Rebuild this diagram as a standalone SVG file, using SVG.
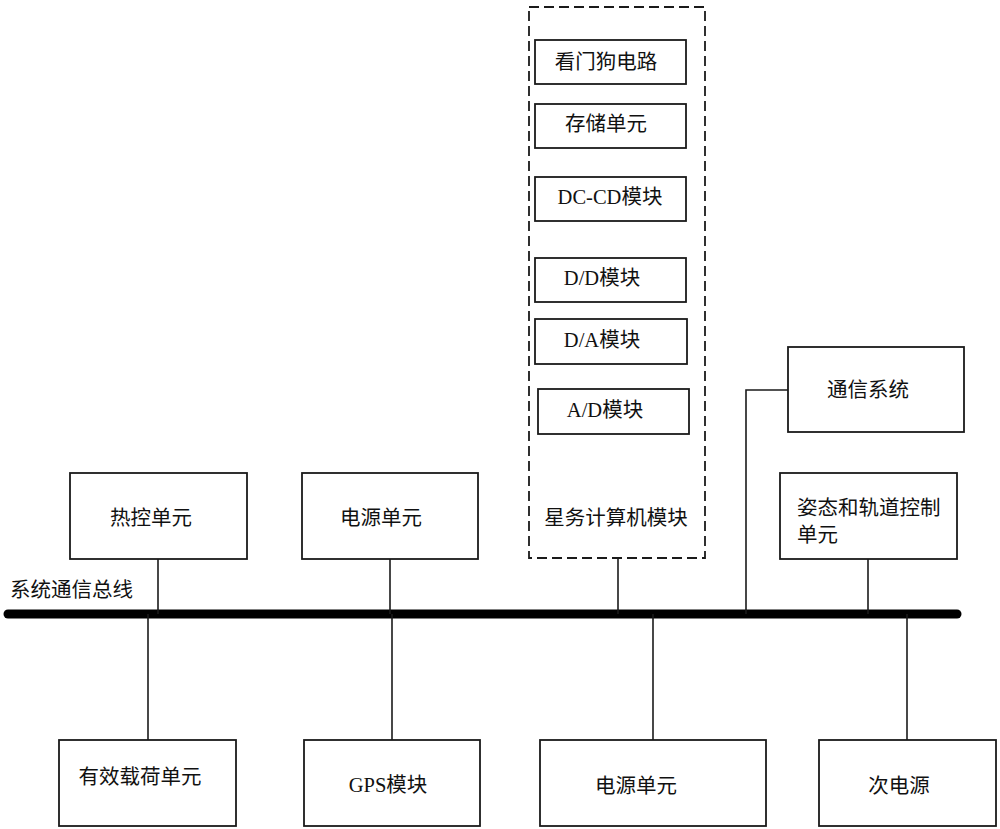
<svg xmlns="http://www.w3.org/2000/svg" width="1000" height="829" viewBox="0 0 1000 829">
<style>
.b{fill:#fff;stroke:#1a1a1a;stroke-width:1.8}
.d{fill:none;stroke:#1a1a1a;stroke-width:1.8;stroke-dasharray:10,5}
.t{font-family:"Liberation Serif","Noto Sans CJK SC",serif;font-size:20.5px;fill:#111;text-anchor:middle}
.l{fill:none;stroke:#1a1a1a;stroke-width:1.6}
.bus{stroke:#000;stroke-width:9;stroke-linecap:round}
</style>
<rect width="1000" height="829" fill="#fff"/>
<g id="connectors">
<line class="bus" x1="8" y1="614" x2="957" y2="614"/>
<line class="l" x1="158" y1="559" x2="158" y2="614"/>
<line class="l" x1="390" y1="559" x2="390" y2="614"/>
<line class="l" x1="618" y1="558" x2="618" y2="614"/>
<polyline class="l" points="788,390 746,390 746,614"/>
<line class="l" x1="868" y1="559" x2="868" y2="614"/>
<line class="l" x1="148" y1="614" x2="148" y2="740"/>
<line class="l" x1="392" y1="614" x2="392" y2="740"/>
<line class="l" x1="653" y1="614" x2="653" y2="740"/>
<line class="l" x1="907" y1="614" x2="907" y2="740"/>
</g>
<g id="bus-label"><text class="t" x="10" y="597" style="text-anchor:start">系统通信总线</text></g>
<g id="computer">
<rect class="d" x="529" y="7" width="176" height="551"/>
<text class="t" x="616" y="525">星务计算机模块</text>
</g>
<g id="watchdog"><rect class="b" x="535" y="40" width="151" height="44"/><text class="t" x="606" y="69">看门狗电路</text></g>
<g id="storage"><rect class="b" x="535" y="104" width="151" height="44"/><text class="t" x="606" y="131">存储单元</text></g>
<g id="dccd"><rect class="b" x="535" y="177" width="151" height="44"/><text class="t" x="610" y="204">DC-CD模块</text></g>
<g id="dd"><rect class="b" x="535" y="258" width="151" height="44"/><text class="t" x="602" y="285">D/D模块</text></g>
<g id="da"><rect class="b" x="535" y="319" width="152" height="45"/><text class="t" x="602" y="347">D/A模块</text></g>
<g id="ad"><rect class="b" x="538" y="389" width="151" height="45"/><text class="t" x="605" y="417">A/D模块</text></g>
<g id="thermal"><rect class="b" x="70" y="473" width="177" height="86"/><text class="t" x="151" y="525">热控单元</text></g>
<g id="power-top"><rect class="b" x="302" y="473" width="176" height="86"/><text class="t" x="381" y="525">电源单元</text></g>
<g id="comm"><rect class="b" x="788" y="347" width="176" height="85"/><text class="t" x="868" y="397">通信系统</text></g>
<g id="attitude"><rect class="b" x="780" y="473" width="177" height="86"/><text class="t" x="797" y="515" style="text-anchor:start">姿态和轨道控制</text><text class="t" x="797" y="542" style="text-anchor:start">单元</text></g>
<g id="payload"><rect class="b" x="59" y="740" width="177" height="86"/><text class="t" x="140" y="784">有效载荷单元</text></g>
<g id="gps"><rect class="b" x="304" y="740" width="176" height="86"/><text class="t" x="388" y="792">GPS模块</text></g>
<g id="power-bottom"><rect class="b" x="540" y="740" width="226" height="86"/><text class="t" x="636" y="793">电源单元</text></g>
<g id="secondary"><rect class="b" x="819" y="740" width="177" height="86"/><text class="t" x="899" y="793">次电源</text></g>
</svg>
